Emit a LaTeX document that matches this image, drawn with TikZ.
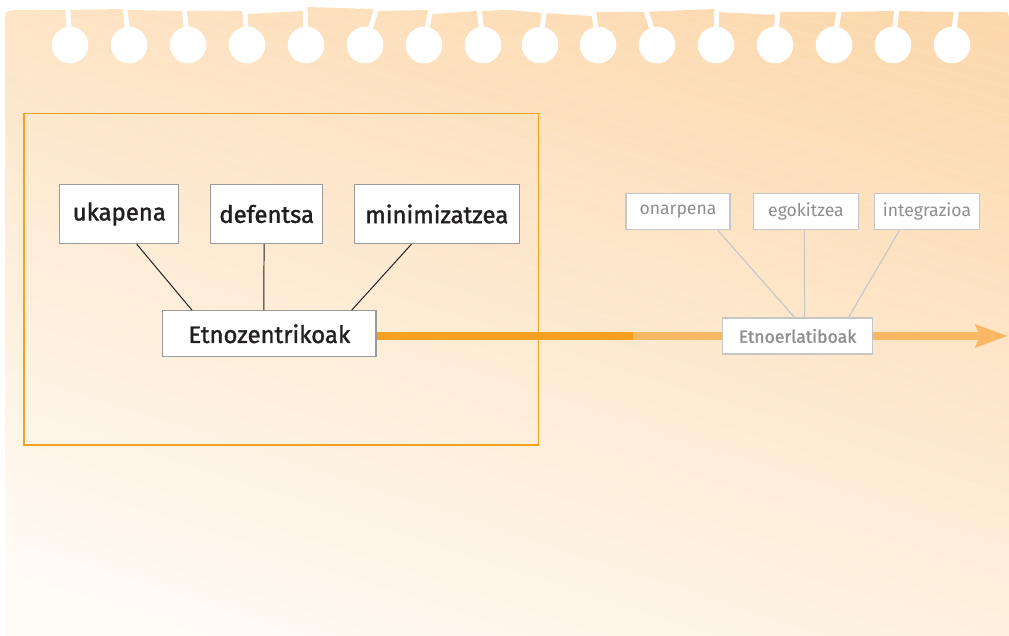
\documentclass[tikz,border=0pt]{standalone}
\usepackage{fontspec}
\setmainfont{Fira Sans}
\newfontfamily\medfont[FakeBold=1.5]{Fira Sans}
\usepackage{tikz}
\usetikzlibrary{arrows.meta}
\definecolor{cam}{HTML}{F6A020}
\definecolor{camnhat}{HTML}{FBB864}
\definecolor{giaytren}{HTML}{FCD8AC}
\definecolor{giaygiua}{HTML}{FDEAD1}
\definecolor{giayduoi}{HTML}{FFFCF7}
\definecolor{vien}{HTML}{9A9A9A}
\definecolor{viennhat}{HTML}{C6C6C6}
\definecolor{chu}{HTML}{231F20}
\definecolor{chunhat}{HTML}{8E8E8E}

\begin{document}
\begin{tikzpicture}[x=0.025cm,y=-0.025cm,
	o/.style={draw=vien,fill=white,line width=0.9pt,inner sep=0pt,text=chu,font=\medfont\fontsize{17}{20}\selectfont,minimum height=1.475cm},
	on/.style={draw=viennhat,fill=white,line width=0.8pt,inner sep=0pt,text=chunhat,font=\fontsize{12.5}{15}\selectfont,minimum height=0.9cm}]
			\useasboundingbox (0,0) rectangle (1009,636);
			% Vẽ tờ giấy
			\begin{scope}
			\path[clip] (5,636) -- (5,26) .. controls (5,10) .. (21,10)
			\foreach \x/\y in {67/10,122/9,130/10,183/11,241/11,248/14,302/11,307/7,373/9,379/11,427/10,432/14,478/11,508/10,542/13,592/16,596/12,642/12,715/9,719/12,775/15,781/12,837/12,892/11,954/12} { -- (\x,\y) }
			-- (1000,12) .. controls (1009,12) .. (1009,21) -- (1009,636) -- cycle;
			\shade[top color=giaytren,middle color=giaygiua,bottom color=giayduoi,shading angle=-18] (-60,-60) rectangle (1069,696);
			\foreach \i in {-20,...,45}
			\draw[white,opacity=0.2,line width=0.4pt] (0,\i*14) -- (1009,\i*14+270);
			\end{scope}
			% Vẽ các lỗ
			\foreach \x/\t in {70/67,129/124,188/183,247/244,306/305,365/380,424/433,483/478,540/546,598/592,657/642,716/717,775/779,834/841,893/898,952/958}
			{
			\fill[white] (\x,45) circle[radius=18.3];
			\draw[white,line width=3.5pt] (\x,45) -- (\t,-2);
			}
			% Vẽ các ô
			\draw[cam,line width=1.1pt] (24,113.5) rectangle (538.5,445);
			\node[o,minimum width=2.975cm] (ukapena) at (119.3,214) {ukapena};
			\node[o,minimum width=2.8cm] (defentsa) at (266.7,214) {defentsa};
			\node[o,minimum width=4.125cm] (minimizatzea) at (436.8,214) {minimizatzea};
			\node[o,minimum width=5.33cm,minimum height=1.15cm] (etnozentrikoak) at (269.3,333.8) {Etnozentrikoak};
			\node[on,minimum width=2.6cm] (onarpena) at (678,211.7) {onarpena};
			\node[on,minimum width=2.63cm] (egokitzea) at (806,211.7) {egokitzea};
			\node[on,minimum width=2.63cm] (integrazioa) at (927,211.7) {integrazioa};
			\node[on,font=\medfont\fontsize{12.5}{15}\selectfont,minimum width=3.76cm] (etnoerlatiboak) at (797.5,336) {Etnoerlatiboak};
			% Vẽ các đường nối
			\draw[chu,line width=0.7pt] (ukapena.-60.6) -- (etnozentrikoak.163.1);
			\draw[chu,line width=0.7pt] (defentsa.-95.8) -- (etnozentrikoak.103.8);
			\draw[chu,line width=0.7pt] (minimizatzea.230.9) -- (etnozentrikoak.16.8);
			\draw[viennhat,line width=0.8pt] (onarpena.-25.7) -- (etnoerlatiboak.99.9);
			\draw[viennhat,line width=0.8pt] (egokitzea.-95.3) -- (etnoerlatiboak.69.6);
			\draw[viennhat,line width=0.8pt] (integrazioa.-146.5) -- (etnoerlatiboak.20);
			% Vẽ mũi tên
			\coordinate (giua) at (633.3,336);
			\coordinate (dinh) at (1008,336);
			\draw[cam,line width=5.5pt] (etnozentrikoak.east |- giua) -- (giua);
			\draw[camnhat,line width=5.5pt] (giua) -- (etnoerlatiboak.west);
			\draw[camnhat,line width=5.5pt,-{Stealth[length=0.8cm,width=0.55cm,inset=0.1cm]}] (etnoerlatiboak.east) -- (dinh);
\end{tikzpicture}
\end{document}
